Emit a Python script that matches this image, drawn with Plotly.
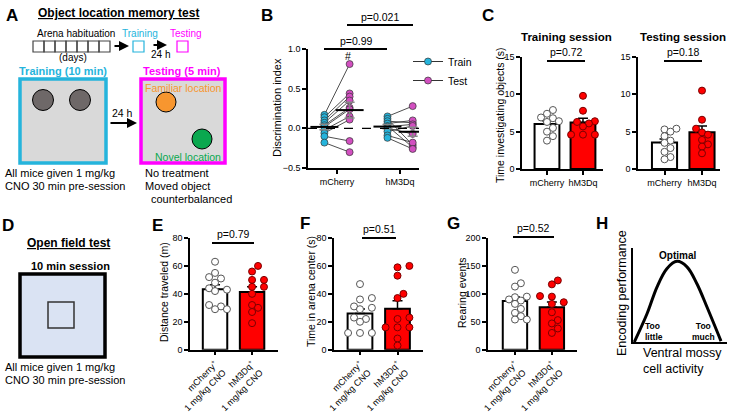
import numpy as np
import plotly.graph_objects as go

W, H = 740, 413
FONT = 'Arial, Liberation Sans, sans-serif'
CYAN = '#25b4dc'
PINK = '#d24fc0'
RED = '#ff0000'

groups = ['mCherry', 'hM3Dq']
groups_cno = ['mCherry<sup>+</sup><br>1 mg/kg CNO', 'hM3Dq<sup>+</sup><br>1 mg/kg CNO']

# B - discrimination index, paired train/test
b_mch_train = [0.17, 0.14, 0.10, 0.07, 0.04, 0.02, -0.02, -0.06, -0.10, -0.18]
b_mch_test = [0.81, 0.44, 0.40, 0.35, 0.26, 0.24, 0.15, 0.11, -0.16, -0.30]
b_hm_train = [0.15, 0.12, 0.09, 0.06, 0.03, 0.02, 0.00, -0.04, -0.09, -0.12]
b_hm_test = [0.28, -0.21, 0.07, 0.10, -0.24, 0.05, -0.07, 0.03, -0.18, -0.26]

# C - time investigating objects (s)
c_train_mch = [7.9, 7.4, 6.9, 6.8, 6.4, 6.3, 5.5, 5.0, 4.4, 3.8]
c_train_hm = [9.8, 7.8, 6.4, 6.3, 6.1, 5.7, 4.6, 4.6, 4.6]
c_test_mch = [5.4, 5.3, 5.0, 4.4, 3.8, 3.5, 2.8, 2.3, 1.6, 1.3]
c_test_hm = [10.5, 6.6, 5.4, 4.9, 4.6, 3.9, 3.3, 3.0, 2.1]

# E, F, G - open field
e_mch = [63, 55, 52, 51, 48, 44, 43, 42, 32, 31, 29, 29]
e_hm = [60, 56, 50, 50, 45, 45, 40, 32, 30, 27, 19]
f_mch = [47, 37, 36, 31, 30, 29, 23, 22, 20, 12, 12, 12]
f_hm = [60, 59, 53, 40, 37, 23, 22, 16, 16, 16, 8, 3]
g_mch = [143, 119, 113, 95, 94, 90, 88, 82, 73, 66, 60, 54, 54]
g_hm = [124, 117, 96, 95, 85, 82, 67, 53, 47, 38, 30]

# H - schematic inverted-U
h_activity = [0.014, 0.149, 0.255, 0.36, 0.468, 0.574, 0.68, 0.787, 0.936]
h_performance = [0.0, 0.30, 0.585, 0.78, 0.858, 0.80, 0.62, 0.372, 0.01]


def px(x):
    return x / W


def py(y):
    return 1 - y / H


def sem(v):
    v = np.asarray(v, float)
    return v.std(ddof=1) / np.sqrt(len(v))


def swarm(vals, ypx, xpx, d=7.0):
    # deterministic beeswarm offsets (in x data units)
    placed, offs = [], [0.0] * len(vals)
    for i in np.argsort(vals):
        yv = vals[i] * ypx
        for k in [0, 1, -1, 2, -2, 3, -3, 4, -4]:
            xo = k * d * 0.85
            if all((xo - a) ** 2 + (yv - b) ** 2 >= (d * 0.9) ** 2 for a, b in placed):
                break
        placed.append((xo, yv))
        offs[i] = xo / xpx
    return offs


fig = go.Figure()
layout = dict(template='none', width=W, height=H, margin=dict(l=0, r=0, t=0, b=0, autoexpand=False),
              paper_bgcolor='white', plot_bgcolor='rgba(0,0,0,0)',
              font=dict(family=FONT, color='black', size=10),
              showlegend=True, shapes=[], annotations=[])


def add_axes(n, left, right, top, bottom, xrng, yrng, dtick, ticktext, ytickfmt=None,
             xtickangle=0, xfont=9, yfont=9):
    xa = 'xaxis' if n == 1 else f'xaxis{n}'
    ya = 'yaxis' if n == 1 else f'yaxis{n}'
    yid = 'y' if n == 1 else f'y{n}'
    xid = 'x' if n == 1 else f'x{n}'
    common = dict(showline=True, linecolor='black', linewidth=1.5, ticks='outside',
                  ticklen=4, tickwidth=1.5, tickcolor='black', showgrid=False,
                  zeroline=False, fixedrange=True, automargin=False)
    layout[xa] = dict(domain=[px(left), px(right)], range=xrng, anchor=yid,
                      tickvals=[1, 2], ticktext=ticktext, tickangle=xtickangle,
                      tickfont=dict(size=xfont), **common)
    layout[ya] = dict(domain=[py(bottom), py(top)], range=yrng, anchor=xid,
                      dtick=dtick, tick0=yrng[0], tickformat=ytickfmt,
                      tickfont=dict(size=yfont), **common)
    return xid, yid


def ann(x, y, text, size=10, color='black', xanchor='center', yanchor='middle',
        angle=0, align='center'):
    layout['annotations'].append(dict(
        x=px(x), y=py(y), xref='paper', yref='paper', text=text, showarrow=False,
        font=dict(size=size, color=color, family=FONT), xanchor=xanchor,
        yanchor=yanchor, textangle=angle, align=align))


def rect(x0, y0, x1, y1, line='black', width=1.0, fill='rgba(0,0,0,0)'):
    layout['shapes'].append(dict(type='rect', xref='paper', yref='paper',
                                 x0=px(x0), x1=px(x1), y0=py(y1), y1=py(y0),
                                 line=dict(color=line, width=width), fillcolor=fill))


def circle(cx, cy, r, fill, line='black', width=1.0):
    layout['shapes'].append(dict(type='circle', xref='paper', yref='paper',
                                 x0=px(cx - r), x1=px(cx + r), y0=py(cy + r), y1=py(cy - r),
                                 line=dict(color=line, width=width), fillcolor=fill))


def hline(x0, x1, y, width=2.0):
    layout['shapes'].append(dict(type='line', xref='paper', yref='paper',
                                 x0=px(x0), x1=px(x1), y0=py(y), y1=py(y),
                                 line=dict(color='black', width=width)))


def arrow(x0, x1, y, width=2.0):
    layout['annotations'].append(dict(x=px(x1), y=py(y), xref='paper', yref='paper',
                                      ax=-(x1 - x0), ay=0, text='', showarrow=True,
                                      arrowhead=2, arrowsize=1, arrowwidth=width,
                                      arrowcolor='black'))


# ---------------- Panel B ----------------
xb, yb = add_axes(1, 308, 419, 49, 168, [0.54, 2.30], [-0.5, 1.0], 0.5, groups, '.1f')
pairs = [(b_mch_train, b_mch_test, 1), (b_hm_train, b_hm_test, 2)]
for tr, te, g in pairs:
    lx, ly = [], []
    for a, b in zip(tr, te):
        lx += [g - 0.2, g + 0.2, None]
        ly += [a, b, None]
    fig.add_trace(go.Scatter(x=lx, y=ly, mode='lines', xaxis=xb, yaxis=yb,
                             line=dict(color='#222', width=0.8), showlegend=False,
                             hoverinfo='skip'))
for tr, te, g in pairs:
    fig.add_trace(go.Scatter(x=[g - 0.2] * len(tr), y=tr, mode='markers', xaxis=xb, yaxis=yb,
                             marker=dict(color=CYAN, size=7, line=dict(color='#333', width=0.7)),
                             showlegend=False, hoverinfo='skip'))
    fig.add_trace(go.Scatter(x=[g + 0.2] * len(te), y=te, mode='markers', xaxis=xb, yaxis=yb,
                             marker=dict(color=PINK, size=7, line=dict(color='#333', width=0.7)),
                             showlegend=False, hoverinfo='skip'))
for name, col in [('Train', CYAN), ('Test', PINK)]:
    fig.add_trace(go.Scatter(x=[None], y=[None], mode='lines+markers', xaxis=xb, yaxis=yb,
                             name=name, line=dict(color='#333', width=1),
                             marker=dict(color=col, size=7, line=dict(color='#333', width=0.7))))
for tr, te, g in pairs:
    for vals, off in [(tr, -0.2), (te, 0.2)]:
        fig.add_trace(go.Scatter(x=[g + off], y=[np.mean(vals)], mode='markers', xaxis=xb, yaxis=yb,
                                 marker=dict(symbol='line-ew-open', size=20, color='black',
                                             line=dict(color='black', width=2)),
                                 error_y=dict(type='data', array=[sem(vals)], color='#888',
                                              thickness=1.5, width=5),
                                 showlegend=False, hoverinfo='skip'))
layout['shapes'].append(dict(type='line', xref=xb, yref=yb, x0=0.54, x1=2.30, y0=0, y1=0,
                             line=dict(color='black', width=1.3, dash='dash')))
ann(277, 108, 'Discrimination index', 11, angle=-90)
hline(324, 387, 49)
ann(356, 41, 'p=0.99', 10.5)
hline(347, 413, 25)
ann(380, 17, 'p=0.021', 10.5)
ann(348, 56, '#', 10.5)


# ---------------- bar panels ----------------
def bar_panel(n, left, right, top, bottom, xrng, yrng, dtick, ticktext, v1, v2, xpx, width,
              xtickangle=0, xfont=9):
    xid, yid = add_axes(n, left, right, top, bottom, xrng, yrng, dtick, ticktext,
                        xtickangle=xtickangle, xfont=xfont)
    ypx = (bottom - top) / (yrng[1] - yrng[0])
    for g, vals, fill, mfill, mline in [(1, v1, 'white', 'white', '#555'),
                                        (2, v2, RED, RED, '#7a0000')]:
        fig.add_trace(go.Bar(x=[g], y=[np.mean(vals)], width=width, xaxis=xid, yaxis=yid,
                             marker=dict(color=fill, line=dict(color='black', width=2)),
                             error_y=dict(type='data', array=[sem(vals)], arrayminus=[0],
                                          symmetric=False, color='black', thickness=1.5, width=5),
                             showlegend=False, hoverinfo='skip'))
        offs = swarm(vals, ypx, xpx)
        fig.add_trace(go.Scatter(x=[g + o for o in offs], y=vals, mode='markers',
                                 xaxis=xid, yaxis=yid, showlegend=False, hoverinfo='skip',
                                 marker=dict(color=mfill, size=7, line=dict(color=mline, width=1))))


bar_panel(2, 522, 603, 57, 169, [0.306, 2.556], [0, 15], 5, groups, c_train_mch, c_train_hm, 36, 0.69)
bar_panel(3, 638, 720, 57, 169, [0.293, 2.48], [0, 15], 5, groups, c_test_mch, c_test_hm, 37.5, 0.67)
bar_panel(4, 190, 278, 238, 349.7, [0.324, 2.70], [0, 80], 20, groups_cno, e_mch, e_hm, 37, 0.66,
          xtickangle=-45, xfont=9)
bar_panel(5, 334, 423, 238, 349.7, [0.307, 2.68], [0, 80], 20, groups_cno, f_mch, f_hm, 37.5, 0.66,
          xtickangle=-45, xfont=9)
bar_panel(6, 488, 577, 238, 349.7, [0.27, 2.68], [0, 200], 50, groups_cno, g_mch, g_hm, 37, 0.66,
          xtickangle=-45, xfont=9)
layout['barmode'] = 'overlay'

ann(566, 37, '<b>Training session</b>', 11.5)
ann(683, 37, '<b>Testing session</b>', 11.5)
ann(500, 115, 'Time investigating objects (s)', 10.5, angle=-90)
hline(547, 585, 61)
ann(566, 52, 'p=0.72', 10.5)
hline(664, 702, 61)
ann(683, 52, 'p=0.18', 10.5)

ann(164, 292, 'Distance traveled (m)', 10.5, angle=-90)
hline(212, 254, 243)
ann(233, 234, 'p=0.79', 10.5)
ann(311, 292, 'Time in arena center (s)', 10.5, angle=-90)
hline(362, 396, 238)
ann(379, 229, 'p=0.51', 10.5)
ann(462, 292, 'Rearing events', 10.5, angle=-90)
hline(513, 554, 237)
ann(533, 228, 'p=0.52', 10.5)

# ---------------- Panel H ----------------
layout['xaxis7'] = dict(domain=[px(633), px(727)], range=[0, 1], anchor='y7', showline=True,
                        linecolor='black', linewidth=2, showticklabels=False, ticks='',
                        showgrid=False, zeroline=False, fixedrange=True, automargin=False)
layout['yaxis7'] = dict(domain=[py(342), py(248)], range=[0, 1], anchor='x7', showline=True,
                        linecolor='black', linewidth=2, showticklabels=False, ticks='',
                        showgrid=False, zeroline=False, fixedrange=True, automargin=False)
fig.add_trace(go.Scatter(x=h_activity, y=h_performance, mode='lines', xaxis='x7', yaxis='y7',
                         line=dict(color='black', width=3, shape='spline'),
                         showlegend=False, hoverinfo='skip'))
ann(622, 293, 'Encoding performance', 12.5, angle=-90)
ann(677, 255, '<b>Optimal</b>', 10)
ann(643, 331, '<b>Too<br>little</b>', 8.5, xanchor='left', align='left')
ann(703, 331, '<b>Too<br>much</b>', 8.5)
ann(641, 361, 'Ventral mossy<br>cell activity', 12.5, xanchor='left', align='left')

# ---------------- Panel A ----------------
ann(36, 13, '<b><u>Object location memory test</u></b>', 12, xanchor='left')
ann(35, 34, 'Arena habituation', 10, xanchor='left')
for k in range(7):
    rect(33 + k * 11, 41, 44 + k * 11, 52, line='#444', width=1.2)
arrow(113, 129, 46)
ann(140, 34, 'Training', 10, color=CYAN)
rect(133, 41, 144, 52, line=CYAN, width=1.2)
arrow(152, 167, 45)
ann(160, 54, '24 h', 10)
ann(186, 34, 'Testing', 10, color='#ff00ff')
rect(177, 41, 188, 52, line='#ff00ff', width=1.2)
ann(73, 57, '(days)', 10)

ann(63, 71, '<b>Training (10 min)</b>', 11, color=CYAN)
rect(20, 79, 106, 163, line=CYAN, width=3.5, fill='#d9d9d9')
circle(43, 100, 10.5, '#6e6868')
circle(80, 100, 10.5, '#6e6868')
arrow(109, 137, 123)
ann(122, 113, '24 h', 10.5)
ann(182, 71, '<b>Testing (5 min)</b>', 11, color='#ff00ff')
rect(141, 79, 225, 163, line='#ff00ff', width=3.5, fill='#d9d9d9')
circle(166, 102, 10, '#f7962f')
circle(202, 139, 10, '#0aa84f')
ann(183, 88, 'Familiar location', 10.5, color='#f7962f')
ann(188, 157, 'Novel location', 10.5, color='#0aa84f')
ann(3, 173, 'All mice given 1 mg/kg', 11, xanchor='left')
ann(3, 186, 'CNO 30 min pre-session', 11, xanchor='left')
ann(143, 173, 'No treatment', 11, xanchor='left')
ann(143, 186, 'Moved object', 11, xanchor='left')
ann(149, 199, 'counterbalanced', 11, xanchor='left')

# ---------------- Panel D ----------------
ann(68, 243, '<b><u>Open field test</u></b>', 12)
ann(70, 266, '<b>10 min session</b>', 11)
rect(20, 274, 105, 357, line='black', width=3.5, fill='#dae3f3')
rect(48, 302, 74, 328, line='#333', width=1.5)
ann(3, 367, 'All mice given 1 mg/kg', 11, xanchor='left')
ann(3, 380, 'CNO 30 min pre-session', 11, xanchor='left')

# panel letters
for letter, x, y in [('A', 12, 15), ('B', 267, 15), ('C', 488, 15), ('D', 8, 225),
                     ('E', 157, 225), ('F', 305, 223), ('G', 453, 223), ('H', 602, 223)]:
    ann(x, y, f'<b>{letter}</b>', 17)

layout['legend'] = dict(x=px(408), y=py(47), xanchor='left', yanchor='top',
                        bgcolor='rgba(0,0,0,0)', font=dict(size=10.5), itemwidth=30,
                        tracegroupgap=2)
fig.update_layout(**layout)
fig.write_html('out.html', config={'displayModeBar': False},
               post_script="document.body.style.margin='0';")
